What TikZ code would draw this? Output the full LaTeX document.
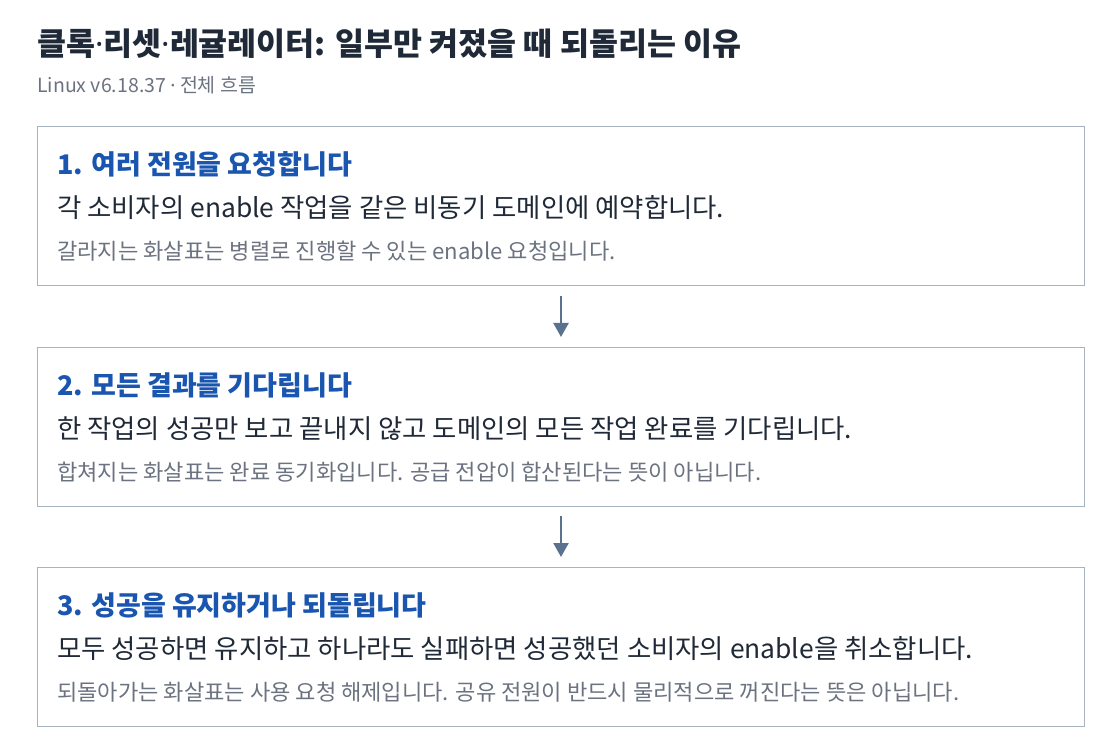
\documentclass[tikz,border=0pt]{standalone}
\usepackage{fontspec}
\setmainfont{Noto Sans CJK KR}
\newfontfamily\latinfont{Noto Sans}
\newcommand{\mdot}{{\latinfont ·}}
\usetikzlibrary{arrows.meta}
\definecolor{titlec}{HTML}{1F2937}
\definecolor{headc}{HTML}{1A56B0}
\definecolor{bodyc}{HTML}{1F2937}
\definecolor{notec}{HTML}{6B7280}
\definecolor{borderc}{HTML}{A8B3C2}
\definecolor{arrowc}{HTML}{5A7190}
\tikzset{
  stepbox/.style={draw=borderc, line width=1pt, fill=white},
  titletext/.style={anchor=base west, inner sep=0pt, text=titlec, font=\fontsize{31.5}{36}\selectfont\bfseries},
  subtext/.style={anchor=base west, inner sep=0pt, text=notec, font=\fontsize{19.5}{23}\selectfont},
  headtext/.style={anchor=base west, inner sep=0pt, text=headc, font=\fontsize{27}{31}\selectfont\bfseries},
  bodytext/.style={anchor=base west, inner sep=0pt, text=bodyc, font=\fontsize{26.4}{30}\selectfont},
  notetext/.style={anchor=base west, inner sep=0pt, text=notec, font=\fontsize{22.1}{25}\selectfont},
  flow/.style={draw=arrowc, line width=2.5pt, -{Triangle[length=14pt,width=15pt]}}
}
\begin{document}
\begin{tikzpicture}[x=1pt,y=-1pt]
\useasboundingbox (0,0) rectangle (1120,754);
\node[titletext] (title) at (37,56) {클록\mdot 리셋\mdot 레귤레이터: 일부만 켜졌을 때 되돌리는 이유};
\node[subtext] (sub) at (37,93) {Linux v6.18.37 \mdot{} 전체 흐름};

\draw[stepbox] (37,127) rectangle (1084,286);
\coordinate (b1top) at (561,127); \coordinate (b1bot) at (561,286);
\node[headtext] (h1) at (57,175) {1. 여러 전원을 요청합니다};
\node[bodytext] (t1) at (57,218) {각 소비자의 enable 작업을 같은 비동기 도메인에 예약합니다.};
\node[notetext] (n1) at (57,260) {갈라지는 화살표는 병렬로 진행할 수 있는 enable 요청입니다.};

\draw[stepbox] (37,347) rectangle (1084,506);
\coordinate (b2top) at (561,347); \coordinate (b2bot) at (561,506);
\node[headtext] (h2) at (57,395) {2. 모든 결과를 기다립니다};
\node[bodytext] (t2) at (57,438) {한 작업의 성공만 보고 끝내지 않고 도메인의 모든 작업 완료를 기다립니다.};
\node[notetext] (n2) at (57,480) {합쳐지는 화살표는 완료 동기화입니다. 공급 전압이 합산된다는 뜻이 아닙니다.};

\draw[stepbox] (37,567) rectangle (1084,726);
\coordinate (b3top) at (561,567);
\node[headtext] (h3) at (57,615) {3. 성공을 유지하거나 되돌립니다};
\node[bodytext] (t3) at (57,658) {모두 성공하면 유지하고 하나라도 실패하면 성공했던 소비자의 enable을 취소합니다.};
\node[notetext] (n3) at (57,700) {되돌아가는 화살표는 사용 요청 해제입니다. 공유 전원이 반드시 물리적으로 꺼진다는 뜻은 아닙니다.};

\draw[flow] ([yshift=-10pt]b1bot) -- ([yshift=10pt]b2top);
\draw[flow] ([yshift=-10pt]b2bot) -- ([yshift=10pt]b3top);
\end{tikzpicture}
\end{document}
